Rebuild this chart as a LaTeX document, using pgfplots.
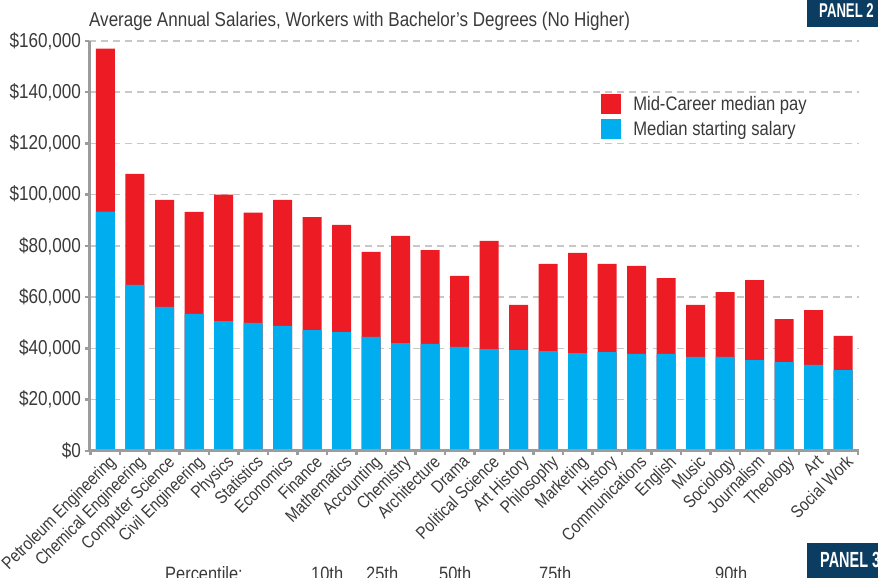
\documentclass[border=0pt]{standalone}
\usepackage{fontspec}
\setmainfont{Liberation Sans}[FakeStretch=0.85]
\newfontfamily\panelfont{Liberation Sans}[FakeStretch=0.66]
\usepackage{pgfplots}
\pgfplotsset{compat=1.18}
\definecolor{midred}{HTML}{ED1C24}
\definecolor{startblue}{HTML}{00AEEF}
\definecolor{axisgray}{HTML}{9B9C9E}
\definecolor{gridgray}{HTML}{C8C8C8}
\definecolor{textgray}{HTML}{3A3A3A}
\definecolor{panelblue}{HTML}{0B3C62}
\begin{document}
\begin{tikzpicture}[x=1bp,y=1bp]
\useasboundingbox (0,0) rectangle (878,578);
\clip (0,0) rectangle (878,578);
\begin{axis}[
  at={(89bp,127bp)}, anchor=south west,
  scale only axis, width=770bp, height=410bp,
  xmin=-0.559, xmax=25.54, ymin=0, ymax=160000,
  axis x line=bottom, axis y line=left,
  axis line style={-, draw=axisgray, line width=3bp},
  tick align=outside, major tick length=4.5bp,
  tick style={draw=axisgray, line width=2.5bp},
  ytick={0,20000,...,160000},
  scaled y ticks=false,
  /pgf/number format/assume math mode=true,
  yticklabel={\$\pgfmathprintnumber[fixed,precision=0,1000 sep={,}]{\tick}},
  y tick label style={font=\fontsize{20.2}{21}\selectfont, text=textgray},
  ymajorgrids,
  grid style={draw=gridgray, line width=1.5bp, dash pattern=on 7bp off 5bp},
  xtick={-0.5,0.5,...,25.5},
  xticklabels={},
  extra x ticks={0,1,...,25},
  extra x tick style={major tick length=0pt},
  extra x tick labels={Petroleum Engineering,Chemical Engineering,Computer Science,Civil Engineering,Physics,Statistics,Economics,Finance,Mathematics,Accounting,Chemistry,Architecture,Drama,Political Science,Art History,Philosophy,Marketing,History,Communications,English,Music,Sociology,Journalism,Theology,Art,Social Work},
  x tick label style={rotate=45, anchor=north east, font=\fontsize{17.7}{18}\selectfont, text=textgray, inner sep=2bp, xshift=1.5bp, yshift=-1.5bp},
  legend style={at={(rel axis cs:0.665,0.87)}, anchor=north west, draw=none, fill=none,
    font=\fontsize{19.6}{20}\selectfont, text=textgray, row sep=5bp, inner sep=0pt,
    nodes={inner sep=0pt}},
  legend cell align=left,
  legend image code/.code={\fill[#1, draw=none] (0bp,-10bp) rectangle (20bp,10bp);},
  /tikz/every odd column/.append style={column sep=12bp},
]
\addplot[ybar, bar width=19bp, fill=midred, draw=none] coordinates {
(0,157000) (1,108100) (2,98000) (3,93300) (4,100000) (5,93000) (6,98000) (7,91300) (8,88200) (9,77700) (10,83900) (11,78400) (12,68300) (13,82000) (14,57000) (15,73000) (16,77300) (17,73000) (18,72200) (19,67500) (20,57000) (21,62000) (22,66700) (23,51500) (24,55000) (25,44900)
};
\addlegendentry{Mid-Career median pay}
\addplot[ybar, bar width=19bp, fill=startblue, draw=none] coordinates {
(0,93400) (1,64800) (2,56200) (3,53500) (4,50700) (5,50000) (6,48800) (7,47200) (8,46400) (9,44500) (10,42100) (11,41800) (12,40600) (13,39800) (14,39400) (15,39000) (16,38200) (17,38600) (18,37900) (19,37900) (20,36700) (21,36700) (22,35500) (23,34700) (24,33600) (25,31600)
};
\addlegendentry{Median starting salary}
\draw[axisgray, line width=3bp] (axis cs:-0.559,0) -- (axis cs:25.54,0);
\end{axis}
\node[anchor=base west, inner sep=0pt, text=textgray, font=\fontsize{20.1}{21}\selectfont] at (89,551) {Average Annual Salaries, Workers with Bachelor’s Degrees (No Higher)};
\fill[panelblue] (807,551) rectangle (880,580);
\node[anchor=base west, inner sep=0pt, text=white, font=\panelfont\bfseries\fontsize{20}{20}\selectfont] at (819,560.5) {PANEL 2};
\fill[panelblue] (807,-5) rectangle (880,35);
\node[anchor=base west, inner sep=0pt, text=white, font=\panelfont\bfseries\fontsize{22}{22}\selectfont] at (820,10) {PANEL 3};
\begin{scope}[every node/.style={anchor=base west, inner sep=0pt, text=textgray, font=\fontsize{19.4}{20}\selectfont}]
\node at (165,-3) {Percentile:};
\node at (311,-3) {10th};
\node at (366,-3) {25th};
\node at (439,-3) {50th};
\node at (539,-3) {75th};
\node at (715,-3) {90th};
\end{scope}
\end{tikzpicture}
\end{document}
